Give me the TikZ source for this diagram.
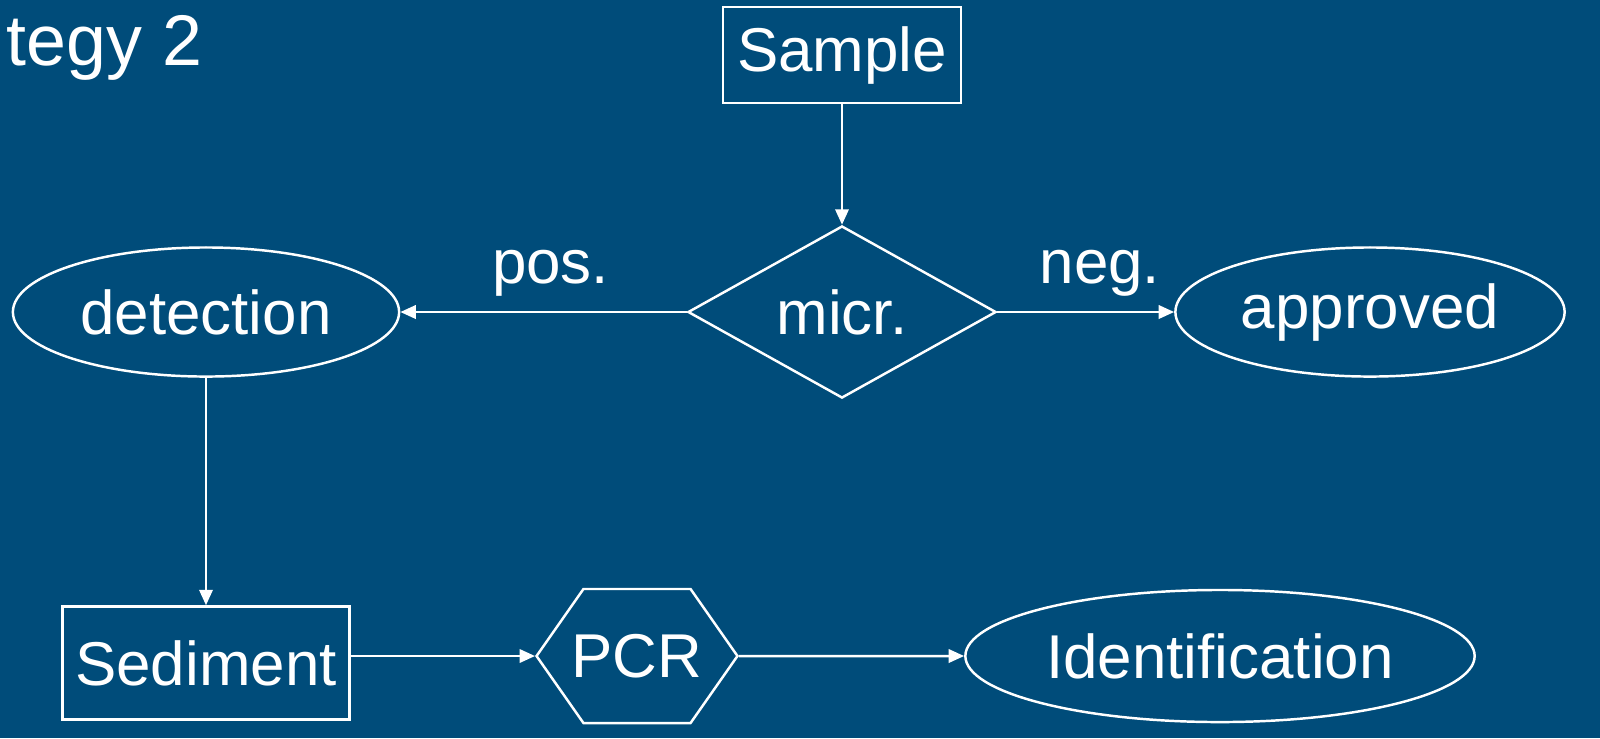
\documentclass[tikz,border=0pt]{standalone}
\usepackage{fontspec}
\setmainfont{Liberation Sans}
\usetikzlibrary{shapes.geometric,shapes.symbols,arrows.meta}
\definecolor{slideblue}{RGB}{0,76,122}

\begin{document}
\begin{tikzpicture}[x=0.01cm, y=-0.01cm,
    every node/.style={text=white, font=\fontsize{17.6}{21}\selectfont},
    box/.style={draw=white, line width=0.7pt, inner sep=0pt},
    tag/.style={inner sep=0pt, above=4pt},
    flow/.style={draw=white, line width=0.7pt, -{Triangle[length=4.4pt,width=3.8pt]}}]
        \useasboundingbox (0,0) rectangle (1600,738);
        \fill[slideblue] (0,0) rectangle (1600,738);

        \node[anchor=base east, inner sep=0pt, font=\fontsize{20.4}{24}\selectfont] (title) at (203,65) {tegy 2};

        \node[box, rectangle, minimum width=2.38cm, minimum height=0.96cm] (sample) at (842,55) {Sample};
        \node[box, diamond, aspect=1.79, minimum width=3.08cm, minimum height=1.72cm] (micr) at (842,312) {micr.};
        \node[box, ellipse, minimum width=3.86cm, minimum height=1.29cm] (detection) at (206,312) {detection};
        \node[box, ellipse, minimum width=3.89cm, minimum height=1.29cm] (approved) at (1370,312) {approved};
        \node[box, rectangle, minimum width=2.87cm, minimum height=1.13cm] (sediment) at (206,663) {Sediment};
        % the label is wider than the flat top of the hexagon
        \node[box, signal, signal to=east and west, signal pointer angle=110,
              minimum height=1.34cm] (pcr) at (637,656) {\makebox[1.07cm]{PCR}};
        \node[box, ellipse, minimum width=5.09cm, minimum height=1.32cm] (ident) at (1220,656) {Identification};

        \draw[flow] (sample) -- (micr);
        \draw[flow] (micr.west) -- node[tag, xshift=2pt] (pos) {pos.} (detection);
        \draw[flow] (micr.east) -- node[tag, xshift=4pt] (neg) {neg.} (approved);
        \draw[flow] (detection) -- (sediment);
        \draw[flow] (pcr.west -| sediment.east) -- (pcr.west);
        \draw[flow] (pcr) -- (ident);
    \end{tikzpicture}
\end{document}
